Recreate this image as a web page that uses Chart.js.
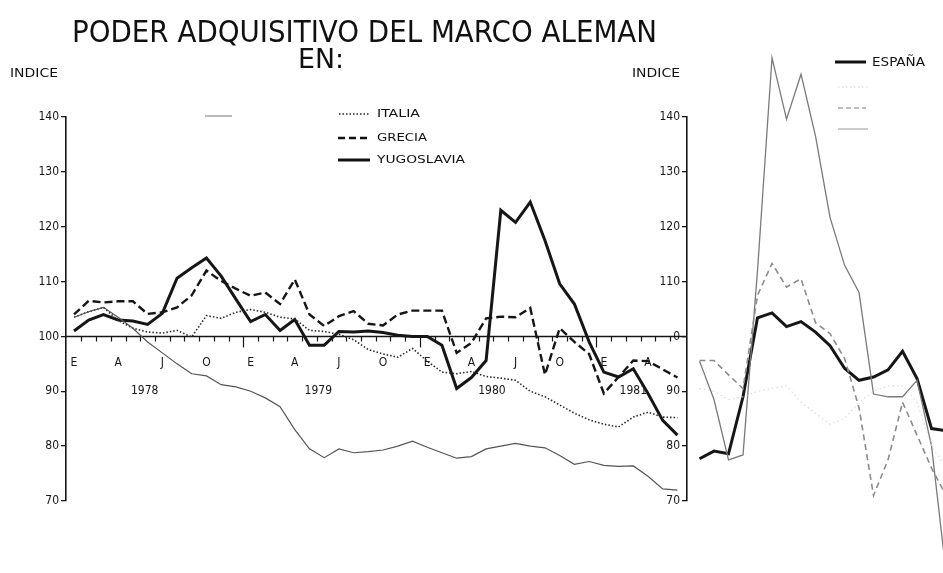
<!DOCTYPE html>
<html>
<head>
<meta charset="utf-8">
<script src="https://cdn.jsdelivr.net/npm/chart.js@4.4.1/dist/chart.umd.min.js"></script>
<style>
  html, body { margin: 0; padding: 0; background: #fff; }
  #wrap { position: relative; width: 943px; height: 573px; overflow: hidden; background: #fff; }
  canvas { position: absolute; top: 0; }
  #leftChart { left: 0; }
  #rightChart { left: 620px; }
  svg { position: absolute; left: 0; top: 0; pointer-events: none; }
  svg text { font-family: "DejaVu Sans Condensed", "DejaVu Sans", sans-serif; fill: #111; }
</style>
</head>
<body>
<div id="wrap">
  <canvas id="leftChart" width="687" height="573"></canvas>
  <canvas id="rightChart" width="323" height="573"></canvas>
  <svg width="943" height="573">
    <text x="72" y="42" font-size="30" textLength="585" lengthAdjust="spacingAndGlyphs">PODER ADQUISITIVO DEL MARCO ALEMAN</text>
    <text x="298" y="68" font-size="26" textLength="46" lengthAdjust="spacingAndGlyphs">EN:</text>
    <text x="10" y="77" font-size="12" textLength="48" lengthAdjust="spacingAndGlyphs">INDICE</text>
    <text x="632" y="77" font-size="12" textLength="48" lengthAdjust="spacingAndGlyphs">INDICE</text>

    <!-- left legend -->
    <line x1="205" y1="116" x2="232" y2="116" stroke="#777" stroke-width="1"/>
    <line x1="339" y1="114" x2="370" y2="114" stroke="#222" stroke-width="1.6" stroke-dasharray="1.5 2"/>
    <text x="377" y="117" font-size="11" textLength="43" lengthAdjust="spacingAndGlyphs">ITALIA</text>
    <line x1="338" y1="138" x2="370" y2="138" stroke="#111" stroke-width="2.4" stroke-dasharray="7 4"/>
    <text x="377" y="141" font-size="11" textLength="50" lengthAdjust="spacingAndGlyphs">GRECIA</text>
    <line x1="338" y1="160" x2="370" y2="160" stroke="#111" stroke-width="3"/>
    <text x="377" y="163" font-size="11" textLength="88" lengthAdjust="spacingAndGlyphs">YUGOSLAVIA</text>

    <!-- right legend (only ESPAÑA survived in the scan) -->
    <line x1="835" y1="62" x2="866" y2="62" stroke="#111" stroke-width="3"/>
    <text x="872" y="66" font-size="11.5" textLength="53" lengthAdjust="spacingAndGlyphs">ESPAÑA</text>
    <line x1="838" y1="87" x2="868" y2="87" stroke="#d4d4d4" stroke-width="1.2" stroke-dasharray="1.5 2.5"/>
    <line x1="838" y1="108" x2="866" y2="108" stroke="#aaa" stroke-width="1.4" stroke-dasharray="5 3"/>
    <line x1="838" y1="129" x2="868" y2="129" stroke="#aaa" stroke-width="1.2"/>
  </svg>
</div>

<script>
// ---- data: left panel, monthly index from Jan 1978 to Jun 1981 ----
const MONTH_TICKS = ['E', 'A', 'J', 'O', 'E', 'A', 'J', 'O', 'E', 'A', 'J', 'O', 'E', 'A'];
const YEARS = ['1978', '1979', '1980', '1981'];
const YEAR_POS = [4.8, 16.6, 28.4, 38]; // in months, where the year label sits

const yugoslavia = [101, 103, 104, 103, 102.8, 102.2, 104.2, 110.6, 112.5, 114.3, 111, 106.8,
  102.7, 104, 101.1, 103.1, 98.4, 98.4, 100.9, 100.8, 101, 100.7, 100.2, 100,
  100, 98.4, 90.5, 92.5, 95.6, 123, 120.8, 124.5, 117.5, 109.6, 105.9, 99,
  93.5, 92.6, 94.1, 89.6, 84.7, 82];
const grecia = [104, 106.5, 106.2, 106.4, 106.4, 104.1, 104.4, 105.3, 107.5, 112, 110.1, 108.7,
  107.4, 108, 105.9, 110.4, 104, 101.9, 103.7, 104.6, 102.3, 102, 104, 104.7,
  104.7, 104.7, 97, 98.8, 103.3, 103.6, 103.5, 105.2, 93, 101.5, 99, 96.8,
  89.6, 92.6, 95.6, 95.5, 94, 92.5];
const italia = [103.5, 104.5, 105.3, 102.9, 101.5, 100.8, 100.6, 101.1, 99.9, 103.8, 103.3, 104.4,
  104.9, 104.4, 103.5, 103.2, 101.1, 100.9, 100.4, 99.4, 97.6, 96.8, 96.2, 97.8,
  95.5, 93.5, 93.2, 93.6, 92.7, 92.4, 92, 90, 89, 87.5, 86, 84.8,
  84, 83.5, 85.3, 86.2, 85.3, 85.2];
// fourth series, its legend label is lost in the scan
const sinNombre = [103.5, 104.5, 105.3, 103.5, 101.5, 99, 97, 95, 93.2, 92.8, 91.2, 90.8,
  90, 88.8, 87.2, 83, 79.5, 77.9, 79.5, 78.8, 79, 79.3, 80, 80.9,
  79.8, 78.8, 77.8, 78.1, 79.5, 80, 80.5, 80, 79.7, 78.3, 76.7, 77.2,
  76.5, 76.3, 76.4, 74.5, 72.2, 72];

// ---- data: right panel (cut off in the scan) ----
const espana = [77.7, 79.1, 78.6, 89, 103.4, 104.3, 101.8, 102.7, 100.8, 98.3, 94.2, 92,
  92.6, 93.9, 97.3, 92.3, 83.2, 82.8];
const derFina = [95.5, 88.5, 77.5, 78.4, 112, 150.8, 139.6, 147.8, 136.5, 121.7, 113, 108,
  89.5, 89, 89, 92, 80, 57];
const derRayas = [95.6, 95.6, 93, 90.5, 107.5, 113.3, 109, 110.5, 102.5, 100.5, 96, 87,
  71, 77.5, 88, 82, 76, 71];
const derPuntos = [90.5, 90, 88.5, 89, 90, 90.5, 91, 88, 86, 84, 85, 88,
  90, 91, 91, 88, 80, 76];

const INK = '#161616';
const FONT = '"DejaVu Sans Condensed", "DejaVu Sans", sans-serif';

function toPoints(values) {
  return values.map((v, i) => ({ x: i, y: v }));
}

function yAxis(width, labelFn) {
  return {
    type: 'linear',
    position: 'left',
    min: 70,
    max: 140,
    afterFit(scale) { scale.width = width; },
    ticks: {
      stepSize: 10,
      color: INK,
      padding: 2,
      font: { family: FONT, size: 12 },
      callback: labelFn || (v => v)
    },
    grid: { drawOnChartArea: false, drawTicks: true, tickLength: 5, color: INK, lineWidth: 1.3 },
    border: { display: true, color: INK, width: 1.6 }
  };
}

// base line at 100 with month ticks and E/A/J/O + year labels
const axisDecor = {
  id: 'axisDecor',
  beforeDatasetsDraw(chart) {
    const { ctx, chartArea, scales: { x, y } } = chart;
    const y0 = Math.round(y.getPixelForValue(100)) + 0.5;
    ctx.save();
    ctx.strokeStyle = INK;
    ctx.lineWidth = 1.6;
    ctx.beginPath();
    ctx.moveTo(chartArea.left, y0);
    ctx.lineTo(chartArea.right, y0);
    ctx.stroke();

    ctx.lineWidth = 1.2;
    for (let m = 0; m <= 40; m++) {
      const px = Math.round(x.getPixelForValue(m + 0.5)) + 0.5;
      const len = (m + 1) % 12 === 0 ? 11 : 5;
      ctx.beginPath();
      ctx.moveTo(px, y0);
      ctx.lineTo(px, y0 + len);
      ctx.stroke();
    }

    ctx.fillStyle = INK;
    ctx.textAlign = 'center';
    ctx.textBaseline = 'alphabetic';
    ctx.font = '12px ' + FONT;
    MONTH_TICKS.forEach((lab, i) => {
      ctx.fillText(lab, x.getPixelForValue(i * 3), y0 + 29);
    });
    YEARS.forEach((lab, i) => {
      ctx.fillText(lab, x.getPixelForValue(YEAR_POS[i]), y0 + 57);
    });
    ctx.restore();
  }
};

function line(data, color, width, dash) {
  return {
    data: toPoints(data),
    borderColor: color,
    borderWidth: width,
    borderDash: dash || [],
    pointRadius: 0,
    tension: 0,
    fill: false,
    clip: false,
    borderJoinStyle: 'miter',
    borderCapStyle: 'butt'
  };
}

document.addEventListener('DOMContentLoaded', function() {
  new Chart(document.getElementById('leftChart'), {
    type: 'line',
    data: {
      datasets: [
        line(sinNombre, '#555', 1.2),
        line(italia, '#2a2a2a', 1.6, [1.5, 2]),
        line(grecia, INK, 2.4, [8, 4]),
        line(yugoslavia, INK, 3)
      ]
    },
    options: {
      responsive: false,
      animation: false,
      layout: { padding: { top: 117, bottom: 72, left: 0, right: 0 } },
      plugins: { legend: { display: false }, tooltip: { enabled: false } },
      scales: {
        x: { type: 'linear', min: -0.543, max: 41.65, display: false },
        y: yAxis(66)
      }
    },
    plugins: [axisDecor]
  });

  new Chart(document.getElementById('rightChart'), {
    type: 'line',
    data: {
      datasets: [
        line(derPuntos, '#dcdcdc', 1.2, [1.5, 3]),
        line(derRayas, '#8c8c8c', 1.6, [6, 4]),
        line(derFina, '#7a7a7a', 1.3),
        line(espana, INK, 3)
      ]
    },
    options: {
      responsive: false,
      animation: false,
      layout: { padding: { top: 117, bottom: 72, left: 0, right: 0 } },
      plugins: { legend: { display: false }, tooltip: { enabled: false } },
      scales: {
        x: { type: 'linear', min: -0.862, max: 16.79, display: false },
        y: yAxis(67, v => (v === 100 ? '0' : v))
      }
    }
  });
});
</script>
</body>
</html>
